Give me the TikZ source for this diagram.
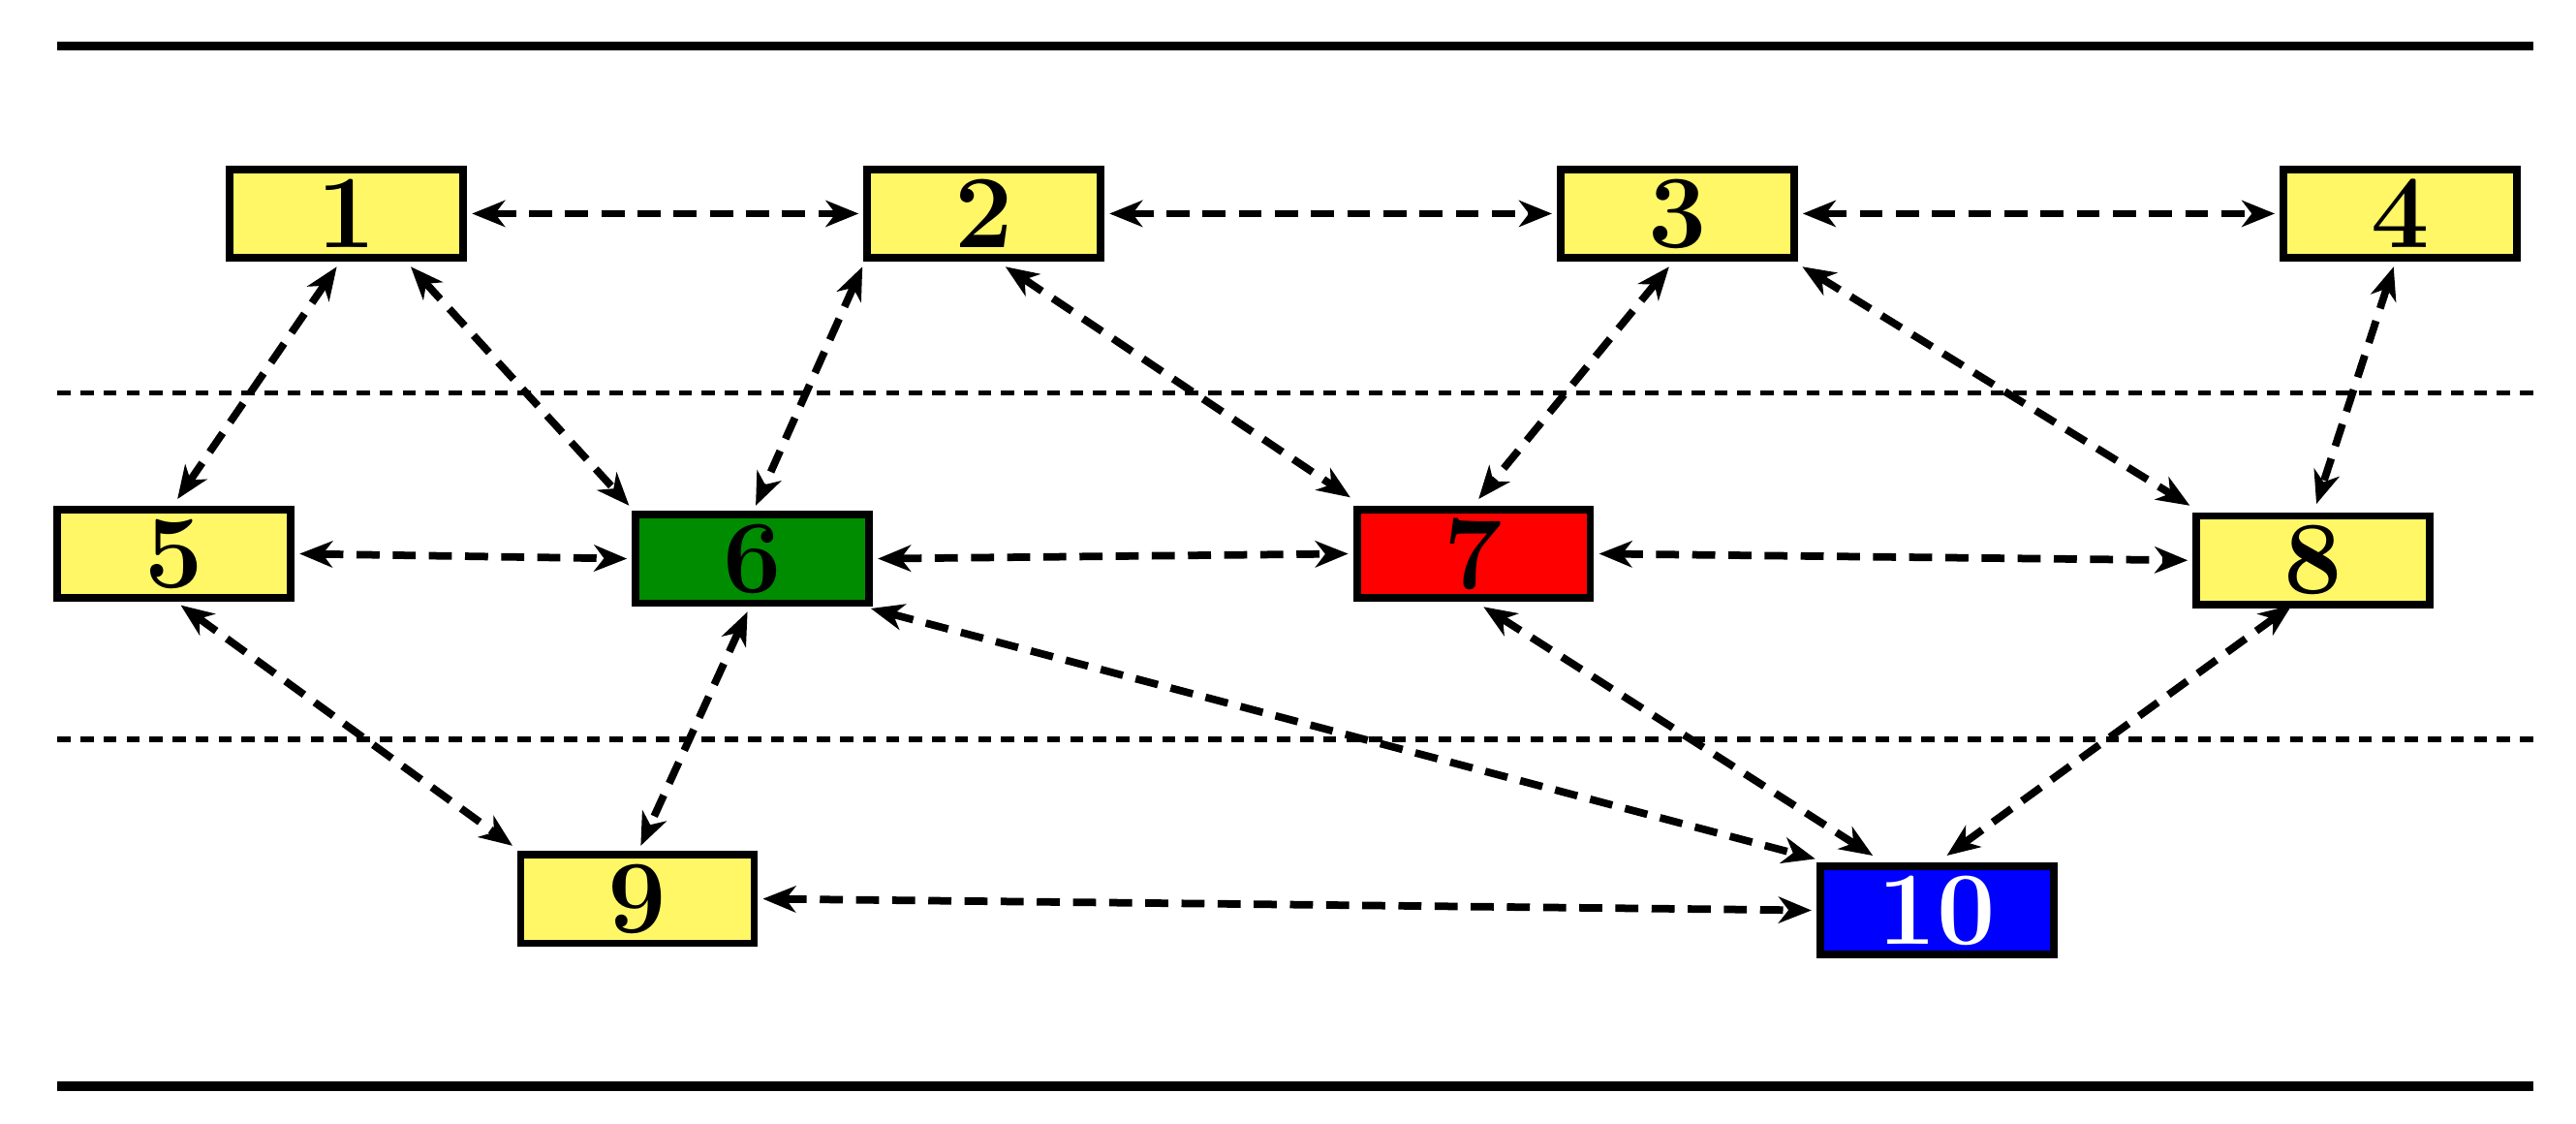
\documentclass[tikz,border=0pt]{standalone}
\usetikzlibrary{arrows.meta}
\begin{document}
\begin{tikzpicture}[x=0.01cm,y=-0.01cm,
 box/.style={draw=black,line width=1.3pt,minimum width=1.42cm,minimum height=0.54cm,inner sep=0pt,font=\fontsize{18}{18}\selectfont\bfseries},
 yel/.style={box,fill=yellow!60!white},
 lnk/.style={line width=1.3pt,dash pattern=on 0.14cm off 0.08cm,{Stealth[length=0.2cm,width=0.16cm,inset=0.06cm]}-{Stealth[length=0.2cm,width=0.16cm,inset=0.06cm]}},
 sep/.style={line width=0.9pt,dash pattern=on 0.08cm off 0.06cm}]
\useasboundingbox (0,0) rectangle (1568,684);
\coordinate (t1) at (35,28); \coordinate (t2) at (1542,28);
\coordinate (b1) at (35,661); \coordinate (b2) at (1542,661);
\coordinate (d1) at (35,239); \coordinate (d2) at (1542,239);
\coordinate (e1) at (35,450); \coordinate (e2) at (1542,450);
\draw[line width=1.6pt] (t1)--(t2);
\draw[line width=1.6pt] (b1)--(b2);
\draw[sep] (d1)--(d2);
\draw[sep] (e1)--(e2);
\node[yel] (n1) at (211,130) {1};
\node[yel] (n2) at (599,130) {2};
\node[yel] (n3) at (1021,130) {3};
\node[yel] (n4) at (1461,130) {4};
\node[yel] (n5) at (106,337) {5};
\node[box,fill=green!55!black] (n6) at (458,340) {6};
\node[box,fill=red] (n7) at (897,337) {7};
\node[yel] (n8) at (1408,341) {8};
\node[yel] (n9) at (388,547) {9};
\node[box,fill=blue,text=white] (n10) at (1179,554) {10};
\draw[lnk] ([xshift=0.03cm]n1.east) -- ([xshift=-0.03cm]n2.west);
\draw[lnk] ([xshift=0.03cm]n2.east) -- ([xshift=-0.03cm]n3.west);
\draw[lnk] ([xshift=0.03cm]n3.east) -- ([xshift=-0.03cm]n4.west);
\draw[lnk] ([xshift=0.03cm]n5.east) -- ([xshift=-0.03cm]n6.west);
\draw[lnk] ([xshift=0.03cm]n6.east) -- ([xshift=-0.03cm]n7.west);
\draw[lnk] ([xshift=0.03cm]n7.east) -- ([xshift=-0.03cm]n8.west);
\draw[lnk] ([xshift=0.03cm]n9.east) -- ([xshift=-0.03cm]n10.west);
\draw[lnk] ([xshift=-0.06cm,yshift=-0.03cm]n1.south) -- ([xshift=0.02cm,yshift=0.04cm]n5.north);
\draw[lnk] ([xshift=0.39cm,yshift=-0.03cm]n1.south) -- ([xshift=-0.75cm,yshift=0.03cm]n6.north);
\draw[lnk] ([xshift=-0.74cm,yshift=-0.03cm]n2.south) -- ([xshift=0.02cm,yshift=0.03cm]n6.north);
\draw[lnk] ([xshift=0.13cm,yshift=-0.03cm]n2.south) -- ([xshift=-0.75cm,yshift=0.05cm]n7.north);
\draw[lnk] ([xshift=-0.05cm,yshift=-0.03cm]n3.south) -- ([xshift=0.03cm,yshift=0.04cm]n7.north);
\draw[lnk] ([xshift=0.76cm,yshift=-0.03cm]n3.south) -- ([xshift=-0.75cm,yshift=0.04cm]n8.north);
\draw[lnk] ([xshift=-0.04cm,yshift=-0.03cm]n4.south) -- ([xshift=0.02cm,yshift=0.05cm]n8.north);
\draw[lnk] ([xshift=0.04cm,yshift=-0.02cm]n5.south) -- ([xshift=-0.76cm,yshift=0.03cm]n9.north);
\draw[lnk] ([xshift=-0.03cm,yshift=-0.03cm]n6.south) -- ([xshift=0.02cm,yshift=0.03cm]n9.north);
\draw[lnk] ([xshift=0.72cm,yshift=-0.01cm]n6.south) -- ([xshift=-0.74cm,yshift=0.02cm]n10.north);
\draw[lnk] ([xshift=0.06cm,yshift=-0.03cm]n7.south) -- ([xshift=-0.39cm,yshift=0.04cm]n10.north);
\draw[lnk] ([xshift=-0.13cm,yshift=0.02cm]n8.south) -- ([xshift=0.06cm,yshift=0.04cm]n10.north);
\end{tikzpicture}
\end{document}
